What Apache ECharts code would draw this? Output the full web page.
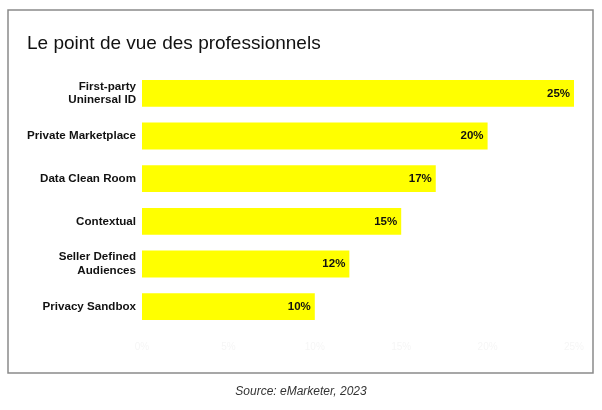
<!DOCTYPE html>
<html>
<head>
<meta charset="utf-8">
<script src="https://cdn.jsdelivr.net/npm/echarts@6/dist/echarts.min.js"></script>
<style>
  html, body { margin: 0; padding: 0; background: #fff; }
  #chart { width: 602px; height: 410px; }
</style>
</head>
<body>
<div id="chart"></div>
<script>
var categories = ['First-party\nUninersal ID', 'Private Marketplace', 'Data Clean Room', 'Contextual', 'Seller Defined\nAudiences', 'Privacy Sandbox'];
var values = [25, 20, 17, 15, 12, 10];
var ticks = [0, 5, 10, 15, 20, 25];

var chart = echarts.init(document.getElementById('chart'));

var option = {
  animation: false,
  graphic: [
    {
      type: 'rect',
      shape: { x: 8, y: 10, width: 585, height: 363 },
      style: { fill: 'none', stroke: '#8a8a8a', lineWidth: 1.5 },
      z: 0
    },
    {
      type: 'text',
      left: 27,
      top: 34,
      style: {
        text: 'Le point de vue des professionnels',
        fontFamily: 'Liberation Sans, Arial, sans-serif',
        fontSize: 19,
        fill: '#111'
      }
    },
    {
      type: 'text',
      left: 'center',
      top: 386,
      style: {
        text: 'Source: eMarketer, 2023',
        fontFamily: 'Liberation Sans, Arial, sans-serif',
        fontStyle: 'italic',
        fontSize: 12,
        fill: '#333'
      }
    }
  ],
  grid: {
    left: 142,
    right: 28,
    top: 72,
    height: 256
  },
  xAxis: {
    type: 'value',
    min: 0,
    max: 25,
    interval: 5,
    axisLine: { show: false },
    axisTick: { show: false },
    splitLine: { show: false },
    axisLabel: {
      color: '#f6f6f6',
      fontSize: 10,
      margin: 14,
      fontFamily: 'Liberation Sans, Arial, sans-serif',
      formatter: function (v) { return ticks.indexOf(v) >= 0 ? v + '%' : ''; }
    }
  },
  yAxis: {
    type: 'category',
    data: categories,
    inverse: true,
    axisLine: { show: false },
    axisTick: { show: false },
    axisLabel: {
      color: '#111',
      fontSize: 11.6,
      fontWeight: 'bold',
      lineHeight: 13.5,
      margin: 6,
      align: 'right',
      fontFamily: 'Liberation Sans, Arial, sans-serif'
    }
  },
  series: [
    {
      type: 'bar',
      data: values,
      barCategoryGap: '37%',
      itemStyle: { color: '#ffff00' },
      label: {
        show: true,
        position: 'insideRight',
        distance: 4,
        color: '#111',
        fontSize: 11.5,
        fontWeight: 'bold',
        fontFamily: 'Liberation Sans, Arial, sans-serif',
        formatter: '{c}%'
      }
    }
  ]
};

chart.setOption(option);
window.addEventListener('resize', function () {
  chart.resize();
});
</script>
</body>
</html>
